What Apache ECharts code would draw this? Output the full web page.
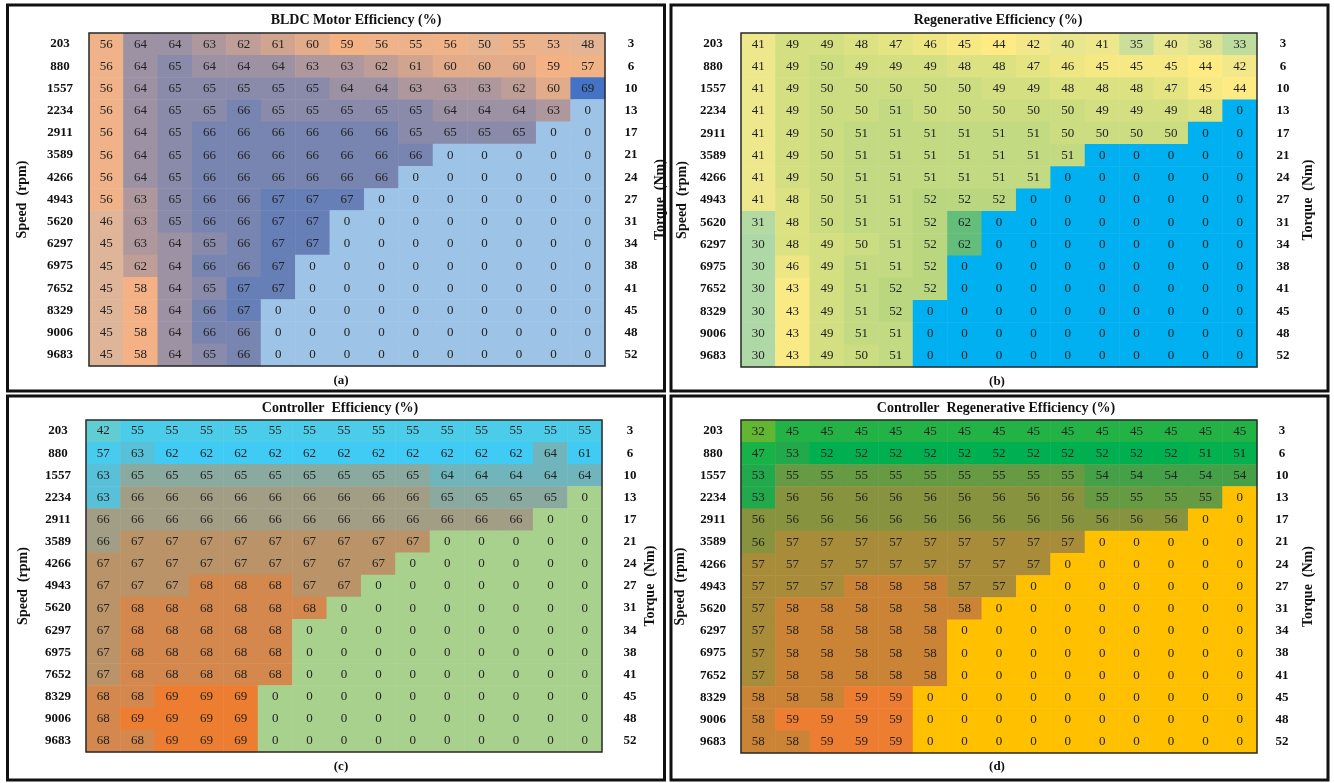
<!DOCTYPE html>
<html><head><meta charset="utf-8">
<script src="https://cdn.jsdelivr.net/npm/echarts@6/dist/echarts.min.js"></script>
<style>html,body{margin:0;padding:0;background:#fff}#c{width:1334px;height:783px}</style>
</head><body><div id="c"></div>
<script>
// ---------- data ----------
const speeds = ['203','880','1557','2234','2911','3589','4266','4943','5620','6297','6975','7652','8329','9006','9683'];
const torques = ['3','6','10','13','17','21','24','27','31','34','38','41','45','48','52'];
const columns = ['1','2','3','4','5','6','7','8','9','10','11','12','13','14','15'];

const motorEff = [
  [56,64,64,63,62,61,60,59,56,55,56,50,55,53,48],
  [56,64,65,64,64,64,63,63,62,61,60,60,60,59,57],
  [56,64,65,65,65,65,65,64,64,63,63,63,62,60,69],
  [56,64,65,65,66,65,65,65,65,65,64,64,64,63,0],
  [56,64,65,66,66,66,66,66,66,65,65,65,65,0,0],
  [56,64,65,66,66,66,66,66,66,66,0,0,0,0,0],
  [56,64,65,66,66,66,66,66,66,0,0,0,0,0,0],
  [56,63,65,66,66,67,67,67,0,0,0,0,0,0,0],
  [46,63,65,66,66,67,67,0,0,0,0,0,0,0,0],
  [45,63,64,65,66,67,67,0,0,0,0,0,0,0,0],
  [45,62,64,66,66,67,0,0,0,0,0,0,0,0,0],
  [45,58,64,65,67,67,0,0,0,0,0,0,0,0,0],
  [45,58,64,66,67,0,0,0,0,0,0,0,0,0,0],
  [45,58,64,66,66,0,0,0,0,0,0,0,0,0,0],
  [45,58,64,65,66,0,0,0,0,0,0,0,0,0,0]
];
const regenEff = [
  [41,49,49,48,47,46,45,44,42,40,41,35,40,38,33],
  [41,49,50,49,49,49,48,48,47,46,45,45,45,44,42],
  [41,49,50,50,50,50,50,49,49,48,48,48,47,45,44],
  [41,49,50,50,51,50,50,50,50,50,49,49,49,48,0],
  [41,49,50,51,51,51,51,51,51,50,50,50,50,0,0],
  [41,49,50,51,51,51,51,51,51,51,0,0,0,0,0],
  [41,49,50,51,51,51,51,51,51,0,0,0,0,0,0],
  [41,48,50,51,51,52,52,52,0,0,0,0,0,0,0],
  [31,48,50,51,51,52,62,0,0,0,0,0,0,0,0],
  [30,48,49,50,51,52,62,0,0,0,0,0,0,0,0],
  [30,46,49,51,51,52,0,0,0,0,0,0,0,0,0],
  [30,43,49,51,52,52,0,0,0,0,0,0,0,0,0],
  [30,43,49,51,52,0,0,0,0,0,0,0,0,0,0],
  [30,43,49,51,51,0,0,0,0,0,0,0,0,0,0],
  [30,43,49,50,51,0,0,0,0,0,0,0,0,0,0]
];
const ctrlEff = [
  [42,55,55,55,55,55,55,55,55,55,55,55,55,55,55],
  [57,63,62,62,62,62,62,62,62,62,62,62,62,64,61],
  [63,65,65,65,65,65,65,65,65,65,64,64,64,64,64],
  [63,66,66,66,66,66,66,66,66,66,65,65,65,65,0],
  [66,66,66,66,66,66,66,66,66,66,66,66,66,0,0],
  [66,67,67,67,67,67,67,67,67,67,0,0,0,0,0],
  [67,67,67,67,67,67,67,67,67,0,0,0,0,0,0],
  [67,67,67,68,68,68,67,67,0,0,0,0,0,0,0],
  [67,68,68,68,68,68,68,0,0,0,0,0,0,0,0],
  [67,68,68,68,68,68,0,0,0,0,0,0,0,0,0],
  [67,68,68,68,68,68,0,0,0,0,0,0,0,0,0],
  [67,68,68,68,68,68,0,0,0,0,0,0,0,0,0],
  [68,68,69,69,69,0,0,0,0,0,0,0,0,0,0],
  [68,69,69,69,69,0,0,0,0,0,0,0,0,0,0],
  [68,68,69,69,69,0,0,0,0,0,0,0,0,0,0]
];
const ctrlRegenEff = [
  [32,45,45,45,45,45,45,45,45,45,45,45,45,45,45],
  [47,53,52,52,52,52,52,52,52,52,52,52,52,51,51],
  [53,55,55,55,55,55,55,55,55,55,54,54,54,54,54],
  [53,56,56,56,56,56,56,56,56,56,55,55,55,55,0],
  [56,56,56,56,56,56,56,56,56,56,56,56,56,0,0],
  [56,57,57,57,57,57,57,57,57,57,0,0,0,0,0],
  [57,57,57,57,57,57,57,57,57,0,0,0,0,0,0],
  [57,57,57,58,58,58,57,57,0,0,0,0,0,0,0],
  [57,58,58,58,58,58,58,0,0,0,0,0,0,0,0],
  [57,58,58,58,58,58,0,0,0,0,0,0,0,0,0],
  [57,58,58,58,58,58,0,0,0,0,0,0,0,0,0],
  [57,58,58,58,58,58,0,0,0,0,0,0,0,0,0],
  [58,58,58,59,59,0,0,0,0,0,0,0,0,0,0],
  [58,59,59,59,59,0,0,0,0,0,0,0,0,0,0],
  [58,58,59,59,59,0,0,0,0,0,0,0,0,0,0]
];

const titles = ['BLDC Motor Efficiency (%)','Regenerative Efficiency (%)','Controller  Efficiency (%)','Controller  Regenerative Efficiency (%)'];
const tags = ['(a)','(b)','(c)','(d)'];

// ---------- styling / layout ----------
const SERIF = "'Liberation Serif','Times New Roman',serif";
const panels = [
  {vals: motorEff, grid:{left:89,top:33,width:516,height:333}, box:[7.5,5,657,386],
   stops:[[0,'#9DC3E6'],[59,'#F4B183'],[69,'#4472C4']], titleX:356, titleY:20, tagX:341, tagY:381,
   lGap:60, rGap:48, lMargin:29, rMargin:26},
  {vals: regenEff, grid:{left:741,top:33,width:516,height:334}, box:[671,5,657,386],
   stops:[[0,'#00B0F0'],[44,'#FFEB84'],[62,'#63BE7B']], titleX:998, titleY:20, tagX:997, tagY:382,
   lGap:52, rGap:44, lMargin:28, rMargin:26},
  {vals: ctrlEff, grid:{left:86,top:420,width:516,height:332}, box:[7.5,396,657,384],
   stops:[[0,'#A9D18E'],[62,'#3FCBF4'],[69,'#ED7D31']], titleX:340, titleY:408, tagX:341, tagY:767,
   lGap:56, rGap:41, lMargin:28, rMargin:28},
  {vals: ctrlRegenEff, grid:{left:741,top:420,width:516,height:333}, box:[671,396,657,384],
   stops:[[0,'#FFC000'],[52,'#00B050'],[59,'#ED7D31']], titleX:996, titleY:408, tagX:997, tagY:767,
   lGap:54, rGap:44, lMargin:28, rMargin:25}
];

function hex(c){return [parseInt(c.slice(1,3),16),parseInt(c.slice(3,5),16),parseInt(c.slice(5,7),16)];}
function buildColors(stops){
  const max = stops[stops.length-1][0];
  const out = [];
  for (let v = 0; v <= max; v++) {
    let i = 0;
    while (i < stops.length-2 && v > stops[i+1][0]) i++;
    const [v0,c0] = stops[i], [v1,c1] = stops[i+1];
    const t = (v - v0) / (v1 - v0);
    const a = hex(c0), b = hex(c1);
    out.push('rgb(' + a.map((x,k)=>Math.round(x + (b[k]-x)*t)).join(',') + ')');
  }
  return out;
}

const grids = [], xAxes = [], yAxes = [], series = [], visualMaps = [], graphics = [];
panels.forEach((p, i) => {
  grids.push(Object.assign({containLabel:false}, p.grid));
  xAxes.push({type:'category', gridIndex:i, data:columns, show:false});
  const axisCommon = {type:'category', gridIndex:i, inverse:true,
    axisLine:{show:false}, axisTick:{show:false}, splitLine:{show:false},
    nameLocation:'middle', nameRotate:90,
    nameTextStyle:{fontFamily:SERIF, fontWeight:'bold', fontSize:14, color:'#111'}};
  yAxes.push(Object.assign({}, axisCommon, {position:'left', data:speeds, name:'Speed  (rpm)', nameGap:p.lGap,
    axisLabel:{fontFamily:SERIF, fontWeight:'bold', fontSize:13, color:'#111', align:'center', margin:p.lMargin}}));
  yAxes.push(Object.assign({}, axisCommon, {position:'right', data:torques, name:'Torque  (Nm)', nameGap:p.rGap,
    axisLabel:{fontFamily:SERIF, fontWeight:'bold', fontSize:13, color:'#111', align:'center', margin:p.rMargin}}));
  const data = [];
  p.vals.forEach((row, r) => row.forEach((v, c) => data.push([c, r, v])));
  series.push({type:'heatmap', xAxisIndex:i, yAxisIndex:2*i, data,
    label:{show:true, fontFamily:SERIF, fontSize:13, color:'#222', formatter: d => d.value[2]},
    itemStyle:{borderWidth:0}, emphasis:{disabled:true}});
  visualMaps.push({type:'continuous', show:false, seriesIndex:i, dimension:2,
    min:0, max:p.stops[p.stops.length-1][0], inRange:{color:buildColors(p.stops)}});
  graphics.push({type:'rect', z:100, shape:{x:p.box[0], y:p.box[1], width:p.box[2], height:p.box[3]},
    style:{fill:'none', stroke:'#111', lineWidth:3}});
  graphics.push({type:'rect', z:100, shape:{x:p.grid.left, y:p.grid.top, width:p.grid.width, height:p.grid.height},
    style:{fill:'none', stroke:'#2a2a2a', lineWidth:1.5}});
  graphics.push({type:'text', z:100, x:p.titleX, y:p.titleY,
    style:{text:titles[i], fontFamily:SERIF, fontWeight:'bold', fontSize:14, fill:'#111', align:'center', verticalAlign:'middle'}});
  graphics.push({type:'text', z:100, x:p.tagX, y:p.tagY,
    style:{text:tags[i], fontFamily:SERIF, fontWeight:'bold', fontSize:13, fill:'#111', align:'center', verticalAlign:'middle'}});
});

const chart = echarts.init(document.getElementById('c'), null, {renderer:'canvas'});
chart.setOption({
  animation:false,
  backgroundColor:'#fff',
  grid:grids, xAxis:xAxes, yAxis:yAxes, visualMap:visualMaps, series, graphic:graphics
});
</script></body></html>
